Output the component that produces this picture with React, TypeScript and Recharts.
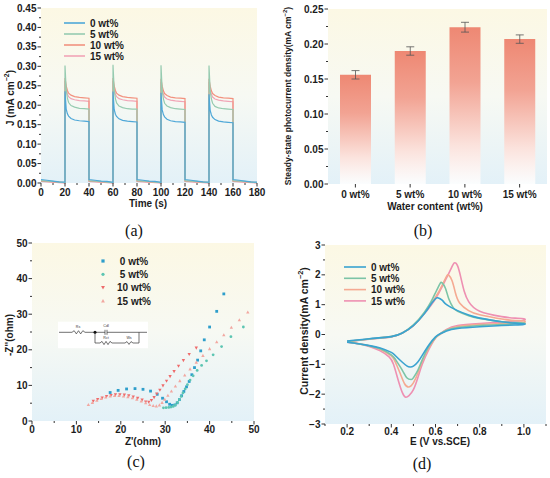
import React from "react";
import {
  LineChart,
  Line,
  BarChart,
  Bar,
  ErrorBar,
  ScatterChart,
  Scatter,
  XAxis,
  YAxis,
  CartesianGrid,
  ReferenceArea,
  Legend,
} from "recharts";

const FONT = 'Arial, "Liberation Sans", Helvetica, sans-serif';
const SERIF = '"Palatino Linotype", "Book Antiqua", "Liberation Serif", "DejaVu Serif", serif';
const INK = "#1c1c1c";

const wtLabels = ["0 wt%", "5 wt%", "10 wt%", "15 wt%"];

// ---- (a) transient photocurrent, light on 20-40, 60-80, 100-120, 140-160 s
const timeS = [
  0, 5, 10, 15, 20,
  20, 21, 22, 23, 25, 28, 32, 36, 40,
  40, 45, 50, 55, 60,
  60, 61, 62, 63, 65, 68, 72, 76, 80,
  80, 85, 90, 95, 100,
  100, 101, 102, 103, 105, 108, 112, 116, 120,
  120, 125, 130, 135, 140,
  140, 141, 142, 143, 145, 148, 152, 156, 160,
  160, 165, 170, 175, 180,
];
const j0wt = [
  0.009, 0.007, 0.005, 0.003, 0.002,
  0.236, 0.19, 0.178, 0.172, 0.166, 0.162, 0.16, 0.159, 0.158,
  0.009, 0.007, 0.005, 0.004, 0.002,
  0.235, 0.189, 0.177, 0.171, 0.165, 0.161, 0.159, 0.158, 0.157,
  0.009, 0.007, 0.005, 0.004, 0.002,
  0.232, 0.188, 0.176, 0.17, 0.164, 0.16, 0.158, 0.157, 0.156,
  0.009, 0.007, 0.005, 0.003, 0.002,
  0.228, 0.187, 0.175, 0.169, 0.163, 0.159, 0.157, 0.156, 0.155,
  0.009, 0.007, 0.005, 0.003, 0.002,
];
const j5wt = [
  0.006, 0.005, 0.004, 0.002, 0.001,
  0.302, 0.24, 0.218, 0.207, 0.199, 0.195, 0.192, 0.191, 0.19,
  0.006, 0.005, 0.004, 0.002, 0.001,
  0.304, 0.239, 0.217, 0.206, 0.198, 0.194, 0.191, 0.19, 0.19,
  0.006, 0.005, 0.004, 0.002, 0.001,
  0.303, 0.238, 0.216, 0.205, 0.198, 0.194, 0.191, 0.19, 0.189,
  0.006, 0.005, 0.004, 0.002, 0.001,
  0.302, 0.237, 0.216, 0.205, 0.197, 0.193, 0.191, 0.19, 0.189,
  0.006, 0.005, 0.004, 0.002, 0.001,
];
const j10wt = [
  0.005, 0.004, 0.003, 0.002, 0.001,
  0.27, 0.25, 0.238, 0.231, 0.226, 0.222, 0.22, 0.219, 0.218,
  0.005, 0.004, 0.003, 0.002, 0.001,
  0.27, 0.25, 0.238, 0.231, 0.226, 0.222, 0.22, 0.219, 0.218,
  0.005, 0.004, 0.003, 0.002, 0.001,
  0.268, 0.249, 0.237, 0.23, 0.225, 0.221, 0.219, 0.218, 0.217,
  0.005, 0.004, 0.003, 0.002, 0.001,
  0.268, 0.249, 0.237, 0.23, 0.225, 0.221, 0.219, 0.218, 0.217,
  0.005, 0.004, 0.003, 0.002, 0.001,
];
const j15wt = [
  0.004, 0.003, 0.002, 0.001, 0.0,
  0.262, 0.24, 0.229, 0.222, 0.217, 0.214, 0.212, 0.211, 0.21,
  0.004, 0.003, 0.002, 0.001, 0.0,
  0.262, 0.24, 0.229, 0.222, 0.217, 0.214, 0.212, 0.211, 0.21,
  0.004, 0.003, 0.002, 0.001, 0.0,
  0.26, 0.239, 0.228, 0.221, 0.216, 0.213, 0.211, 0.21, 0.209,
  0.004, 0.003, 0.002, 0.001, 0.0,
  0.26, 0.239, 0.228, 0.221, 0.216, 0.213, 0.211, 0.21, 0.209,
  0.004, 0.003, 0.002, 0.001, 0.0,
];
const aMajorX = [0, 20, 40, 60, 80, 100, 120, 140, 160, 180];
const aMinorX = [10, 30, 50, 70, 90, 110, 130, 150, 170];
const aMajorY = [0, 0.05, 0.1, 0.15, 0.2, 0.25, 0.3, 0.35, 0.4, 0.45];
const aMinorY = [0.025, 0.075, 0.125, 0.175, 0.225, 0.275, 0.325, 0.375, 0.425];

// ---- (b) steady-state photocurrent
const steadyJ = [0.156, 0.19, 0.224, 0.207];
const steadyErr = [0.006, 0.006, 0.007, 0.006];
const bMajorY = [0, 0.05, 0.1, 0.15, 0.2, 0.25];
const bMinorY = [0.025, 0.075, 0.125, 0.175, 0.225];

// ---- (c) Nyquist plots [Z', -Z'']
const eis0: [number, number][] = [
  [17.6, 8.0], [19.4, 8.6], [21.3, 9.0], [23.2, 9.1], [25.0, 8.9], [26.7, 8.4],
  [28.2, 7.5], [29.4, 6.4], [30.3, 5.4], [31.0, 4.7], [31.6, 4.4], [32.2, 4.5],
  [32.7, 5.1], [33.2, 6.0], [33.7, 7.1], [34.2, 8.3], [34.8, 9.6], [35.4, 11.1],
  [36.0, 13.0], [36.6, 15.0], [37.3, 17.1], [38.0, 19.7], [38.8, 22.8],
  [40.0, 26.4], [41.6, 30.8], [43.2, 35.7],
];
const eis5: [number, number][] = [
  [29.6, 3.7], [30.2, 3.75], [30.8, 3.8], [31.3, 3.9], [31.8, 4.1], [32.3, 4.5],
  [32.8, 5.2], [33.2, 6.0], [33.6, 6.9], [34.0, 7.9], [34.5, 9.0], [35.0, 10.2],
  [35.6, 11.5], [36.3, 12.7], [37.2, 14.2], [38.2, 15.6], [39.3, 16.9],
  [40.8, 18.6], [42.7, 20.9], [44.8, 23.7], [47.6, 26.4],
];
const eis10: [number, number][] = [
  [13.8, 5.6], [14.8, 6.1], [15.8, 6.5], [16.8, 6.9], [17.8, 7.2], [18.8, 7.4],
  [19.8, 7.4], [20.8, 7.3], [21.8, 7.1], [22.8, 6.8], [23.8, 6.4], [24.8, 5.9],
  [25.6, 5.4], [26.3, 5.3], [26.9, 5.8], [27.5, 6.6], [28.1, 7.6], [28.8, 8.7],
  [29.5, 9.9], [30.3, 11.2], [31.1, 12.5], [32.0, 13.9], [33.0, 15.4],
  [34.1, 17.0], [35.4, 18.7], [37.0, 20.5],
];
const eis15: [number, number][] = [
  [12.7, 4.6], [13.6, 5.2], [14.6, 5.8], [15.6, 6.3], [16.6, 6.7], [17.6, 7.0],
  [18.6, 7.1], [19.6, 7.1], [20.6, 7.0], [21.6, 6.8], [22.6, 6.5], [23.6, 6.1],
  [24.6, 5.6], [25.6, 5.1], [26.5, 4.6], [27.3, 4.3], [28.0, 4.2], [28.7, 4.5],
  [29.3, 5.2], [29.9, 6.1], [30.6, 7.2], [31.4, 8.4], [32.3, 9.8], [33.3, 11.3],
  [34.4, 12.9], [35.6, 14.6], [37.0, 16.5], [38.5, 18.4], [40.0, 20.3],
  [41.6, 22.2], [43.2, 24.2], [44.9, 26.3], [46.7, 28.4], [48.6, 30.6],
];
const cMajor = [0, 10, 20, 30, 40, 50];
const cMinor = [5, 15, 25, 35, 45];

// ---- (d) cyclic voltammograms [E, j], forward then reverse sweep
const cv0: [number, number][] = [
  [0.2, -0.22], [0.3, -0.14], [0.4, -0.07], [0.45, 0.05], [0.5, 0.3], [0.55, 0.7],
  [0.58, 1.02], [0.6, 1.2], [0.61, 1.23], [0.63, 1.15], [0.65, 1.0], [0.7, 0.8],
  [0.75, 0.65], [0.8, 0.55], [0.9, 0.43], [0.96, 0.38], [1.0, 0.36],
  [1.0, 0.34], [0.96, 0.32], [0.9, 0.3], [0.8, 0.26], [0.7, 0.2], [0.65, 0.12], [0.62, 0.02],
  [0.6, -0.08], [0.57, -0.35], [0.54, -0.7], [0.52, -0.92], [0.5, -1.06],
  [0.485, -1.09], [0.47, -1.05], [0.45, -0.93], [0.42, -0.72], [0.4, -0.6],
  [0.35, -0.45], [0.3, -0.37], [0.25, -0.31], [0.2, -0.26],
];
const cv5: [number, number][] = [
  [0.2, -0.23], [0.3, -0.15], [0.4, -0.07], [0.45, 0.05], [0.5, 0.32], [0.55, 0.75],
  [0.58, 1.1], [0.6, 1.4], [0.62, 1.7], [0.63, 1.73], [0.645, 1.55], [0.66, 1.2],
  [0.68, 0.9], [0.7, 0.78], [0.75, 0.63], [0.8, 0.54], [0.9, 0.43], [0.96, 0.4], [1.0, 0.38],
  [1.0, 0.36], [0.96, 0.35], [0.9, 0.33], [0.8, 0.3], [0.7, 0.23], [0.65, 0.14], [0.62, 0.02],
  [0.6, -0.1], [0.57, -0.4], [0.54, -0.85], [0.52, -1.2], [0.5, -1.45],
  [0.49, -1.51], [0.47, -1.45], [0.45, -1.2], [0.42, -0.85], [0.4, -0.68],
  [0.35, -0.48], [0.3, -0.38], [0.25, -0.31], [0.2, -0.25],
];
const cv10: [number, number][] = [
  [0.2, -0.23], [0.3, -0.15], [0.4, -0.07], [0.45, 0.05], [0.5, 0.3], [0.55, 0.72],
  [0.6, 1.25], [0.63, 1.65], [0.65, 1.95], [0.66, 1.99], [0.675, 1.8], [0.69, 1.4],
  [0.71, 1.05], [0.75, 0.8], [0.8, 0.66], [0.9, 0.52], [0.96, 0.47], [1.0, 0.45],
  [1.0, 0.4], [0.96, 0.39], [0.9, 0.37], [0.8, 0.34], [0.7, 0.27], [0.65, 0.15], [0.62, 0.0],
  [0.6, -0.12], [0.57, -0.45], [0.54, -0.9], [0.52, -1.3], [0.5, -1.62],
  [0.48, -1.76], [0.46, -1.65], [0.44, -1.3], [0.42, -0.95], [0.4, -0.72],
  [0.35, -0.5], [0.3, -0.38], [0.25, -0.3], [0.2, -0.24],
];
const cv15: [number, number][] = [
  [0.2, -0.24], [0.3, -0.16], [0.4, -0.08], [0.45, 0.05], [0.5, 0.3], [0.55, 0.7],
  [0.6, 1.2], [0.64, 1.75], [0.67, 2.2], [0.685, 2.4], [0.7, 2.3], [0.715, 1.9],
  [0.73, 1.45], [0.75, 1.1], [0.8, 0.78], [0.9, 0.6], [0.96, 0.55], [1.0, 0.53],
  [1.0, 0.48], [0.96, 0.45], [0.9, 0.42], [0.8, 0.37], [0.7, 0.3], [0.65, 0.17], [0.62, 0.02],
  [0.6, -0.12], [0.57, -0.5], [0.54, -1.0], [0.52, -1.45], [0.5, -1.85],
  [0.48, -2.05], [0.465, -2.1], [0.45, -1.95], [0.43, -1.5], [0.41, -1.0],
  [0.39, -0.75], [0.35, -0.55], [0.3, -0.4], [0.25, -0.31], [0.2, -0.26],
];
const dMajorX = [0.2, 0.4, 0.6, 0.8, 1.0];
const dMinorX = [0.1, 0.3, 0.5, 0.7, 0.9, 1.1];
const dMajorY = [-3, -2, -1, 0, 1, 2, 3];
const dMinorY = [-2.5, -1.5, -0.5, 0.5, 1.5, 2.5];

const aColors = ["#4fa8d8", "#96cbb0", "#f2927f", "#f1a4b6"];
const cColors = ["#2e9ecb", "#5cc5b2", "#ee6b6b", "#f2a7a0"];
const dColors = ["#3aa3d0", "#7cc4a6", "#f5aa92", "#ee90b2"];

const aRows = timeS.map((t, i) => ({ t, j0: j0wt[i], j5: j5wt[i], j10: j10wt[i], j15: j15wt[i] }));
const bRows = wtLabels.map((name, i) => ({ name, v: steadyJ[i], e: steadyErr[i] }));
const toXY = (pts: [number, number][]) => pts.map(([x, y]) => ({ x, y }));
const toEJ = (pts: [number, number][]) => pts.map(([E, J]) => ({ E, J }));

const near = (list: number[], v: number) => list.some((m) => Math.abs(m - v) < 1e-9);

function xTick(axisY: number, majors: number[] | null, fmt: (v: any) => string, base: number) {
  return (p: any) => {
    const v = p.payload.value;
    const major = majors === null || near(majors, v);
    return (
      <g>
        <line x1={p.x} x2={p.x} y1={axisY} y2={axisY + (major ? 3.5 : 2)} stroke={INK} strokeWidth={0.9} />
        {major && (
          <text x={p.x} y={axisY + base} textAnchor="middle" fontSize={10} fontWeight={700} fontFamily={FONT} fill={INK}>
            {fmt(v)}
          </text>
        )}
      </g>
    );
  };
}

function yTick(axisX: number, majors: number[], fmt: (v: number) => string) {
  return (p: any) => {
    const v = p.payload.value;
    const major = near(majors, v);
    return (
      <g>
        <line x1={axisX} x2={axisX - (major ? 3.5 : 2)} y1={p.y} y2={p.y} stroke={INK} strokeWidth={0.9} />
        {major && (
          <text x={axisX - 4.5} y={p.y} dy="0.36em" textAnchor="end" fontSize={10} fontWeight={700} fontFamily={FONT} fill={INK}>
            {fmt(v)}
          </text>
        )}
      </g>
    );
  };
}

const title = (x: number, y: number, node: React.ReactNode, size = 10, rotate = false) => ({
  content: () => (
    <text
      transform={`translate(${x},${y})${rotate ? " rotate(-90)" : ""}`}
      textAnchor="middle"
      dominantBaseline="central"
      fontSize={size}
      fontWeight={700}
      fontFamily={FONT}
      fill={INK}
    >
      {node}
    </text>
  ),
});

const unitSup = (before: string, size: number) => [
  <tspan key="a">{before}</tspan>,
  <tspan key="b" dy={-size * 0.4} fontSize={size * 0.7}>−2</tspan>,
  <tspan key="c" dy={size * 0.4}>)</tspan>,
];

function BgGradient({ id }: { id: string }) {
  return (
    <defs>
      <linearGradient id={id} x1="0" y1="0" x2="0" y2="1">
        <stop offset="0" stopColor="#fcf8e4" />
        <stop offset="0.5" stopColor="#f7f9f3" />
        <stop offset="1" stopColor="#e3f1f8" />
      </linearGradient>
    </defs>
  );
}

function LineKey({ colors, rowH, width }: { colors: string[]; rowH: number; width: number }) {
  return (
    <svg width={110} height={rowH * 4 + 4} style={{ display: "block" }}>
      {wtLabels.map((lab, i) => (
        <g key={lab}>
          <line x1={2} x2={2 + width} y1={6 + i * rowH} y2={6 + i * rowH} stroke={colors[i]} strokeWidth={1.6} />
          <text x={width + 7} y={6 + i * rowH} dy="0.36em" fontSize={10} fontWeight={700} fontFamily={FONT} fill={INK}>
            {lab}
          </text>
        </g>
      ))}
    </svg>
  );
}

const marker = (kind: number, color: string, cx: number, cy: number, s = 1.4) => {
  if (kind === 0) return <rect x={cx - s} y={cy - s} width={2 * s} height={2 * s} fill={color} />;
  if (kind === 1) return <circle cx={cx} cy={cy} r={s} fill={color} />;
  if (kind === 2)
    return <polygon points={`${cx - s * 1.2},${cy - s} ${cx + s * 1.2},${cy - s} ${cx},${cy + s * 1.2}`} fill={color} />;
  return <polygon points={`${cx - s * 1.2},${cy + s} ${cx + s * 1.2},${cy + s} ${cx},${cy - s * 1.2}`} fill={color} />;
};

function MarkerKey() {
  return (
    <svg width={80} height={58} style={{ display: "block" }}>
      {wtLabels.map((lab, i) => (
        <g key={lab}>
          {marker(i, cColors[i], 8, 6 + i * 13.3, 1.6)}
          <text x={39} y={6 + i * 13.3} dy="0.36em" textAnchor="middle" fontSize={10} fontWeight={700} fontFamily={FONT} fill={INK}>
            {lab}
          </text>
        </g>
      ))}
    </svg>
  );
}

const zig = (x0: number, x1: number, y: number, a = 1.6, n = 6) => {
  const pts: string[] = [];
  for (let k = 0; k <= n; k++) {
    const yy = k === 0 || k === n ? y : y + (k % 2 ? -a : a);
    pts.push(`${x0 + ((x1 - x0) * k) / n},${yy}`);
  }
  return <polyline points={pts.join(" ")} fill="none" stroke="#333" strokeWidth={0.7} />;
};

function Circuit() {
  const y = 332.3;
  const yl = 343;
  const t = { fontSize: 3.6, fontFamily: FONT, fill: "#333", textAnchor: "middle" as const };
  return (
    <g>
      <rect x={58} y={321.7} width={90} height={26.5} fill="#ffffff" />
      <g stroke="#333" strokeWidth={0.7} fill="none">
        <line x1={59} x2={72} y1={y} y2={y} />
        <line x1={85} x2={105} y1={y} y2={y} />
        <line x1={105} x2={105} y1={y - 2.5} y2={y + 2.5} />
        <line x1={107} x2={107} y1={y - 2.5} y2={y + 2.5} />
        <line x1={107} x2={147} y1={y} y2={y} />
        <line x1={95} x2={95} y1={y} y2={yl} />
        <line x1={95} x2={100} y1={yl} y2={yl} />
        <line x1={112} x2={125} y1={yl} y2={yl} />
        <line x1={133} x2={139} y1={yl} y2={yl} />
        <line x1={139} x2={139} y1={yl} y2={y} />
      </g>
      {zig(72, 85, y)}
      {zig(100, 112, yl)}
      {zig(125, 133, yl, 1.4, 4)}
      <circle cx={95} cy={y} r={1.5} fill="#111" />
      <text x={78} y={327.5} {...t}>Rs</text>
      <text x={106} y={326.5} {...t}>Cdl</text>
      <text x={106} y={339} {...t}>Rct</text>
      <text x={129} y={339} {...t}>Ws</text>
    </g>
  );
}

function PanelA() {
  return (
    <LineChart width={272} height={215} data={aRows} margin={{ top: 8, right: 15, bottom: 0, left: 0 }}>
      <BgGradient id="bgA" />
      <CartesianGrid fill="url(#bgA)" stroke="none" horizontal={false} vertical={false} />
      <XAxis
        type="number"
        dataKey="t"
        domain={[0, 180]}
        ticks={[...aMajorX, ...aMinorX]}
        interval={0}
        height={32}
        axisLine={false}
        tickLine={false}
        tick={xTick(183, aMajorX, (v) => String(v), 12.5)}
        label={title(148, 203, "Time (s)")}
      />
      <YAxis
        type="number"
        domain={[0, 0.45]}
        ticks={[...aMajorY, ...aMinorY]}
        interval={0}
        width={41}
        axisLine={false}
        tickLine={false}
        tick={yTick(41, aMajorY, (v) => v.toFixed(2))}
        label={title(10, 98, unitSup("J (mA cm", 10), 10, true)}
      />
      <ReferenceArea fill="none" stroke={INK} strokeWidth={1} ifOverflow="visible" />
      <Line type="linear" dataKey="j15" stroke={aColors[3]} strokeWidth={1.2} dot={false} isAnimationActive={false} />
      <Line type="linear" dataKey="j10" stroke={aColors[2]} strokeWidth={1.2} dot={false} isAnimationActive={false} />
      <Line type="linear" dataKey="j5" stroke={aColors[1]} strokeWidth={1.2} dot={false} isAnimationActive={false} />
      <Line type="linear" dataKey="j0" stroke={aColors[0]} strokeWidth={1.2} dot={false} isAnimationActive={false} />
      <Legend
        layout="horizontal"
        align="center"
        verticalAlign="middle"
        wrapperStyle={{ position: "absolute", left: 62, top: 17, width: 110 }}
        content={() => <LineKey colors={aColors} rowH={11} width={21} />}
      />
    </LineChart>
  );
}

function PanelB() {
  return (
    <BarChart width={275} height={215} data={bRows} margin={{ top: 9, right: 3, bottom: 0, left: 0 }}>
      <BgGradient id="bgB" />
      <defs>
        <linearGradient id="barB" x1="0" y1="0" x2="0" y2="1">
          <stop offset="0" stopColor="#ee8873" />
          <stop offset="0.35" stopColor="#f2a393" />
          <stop offset="0.75" stopColor="#fbe2dc" />
          <stop offset="1" stopColor="#ffffff" stopOpacity={0.85} />
        </linearGradient>
      </defs>
      <CartesianGrid fill="url(#bgB)" stroke="none" horizontal={false} vertical={false} />
      <XAxis
        dataKey="name"
        height={31}
        axisLine={false}
        tickLine={false}
        interval={0}
        tick={xTick(184, null, (v) => String(v), 13.5)}
        label={title(160, 206, "Water content (wt%)")}
      />
      <YAxis
        type="number"
        domain={[0, 0.25]}
        ticks={[...bMajorY, ...bMinorY]}
        interval={0}
        width={53}
        axisLine={false}
        tickLine={false}
        tick={yTick(53, bMajorY, (v) => v.toFixed(2))}
        label={title(13, 96, unitSup("Steady-state photocurrent density(mA cm", 8.5), 8.5, true)}
      />
      <ReferenceArea fill="none" stroke={INK} strokeWidth={1} ifOverflow="visible" />
      <Bar dataKey="v" fill="url(#barB)" barSize={31} isAnimationActive={false}>
        <ErrorBar dataKey="e" width={4} stroke="#555" strokeWidth={0.8} />
      </Bar>
    </BarChart>
  );
}

function PanelC() {
  const sets = [eis0, eis5, eis10, eis15];
  return (
    <ScatterChart width={268} height={215} margin={{ top: 8, right: 14, bottom: 0, left: 0 }}>
      <BgGradient id="bgC" />
      <CartesianGrid fill="url(#bgC)" stroke="none" horizontal={false} vertical={false} />
      <XAxis
        type="number"
        dataKey="x"
        domain={[0, 50]}
        ticks={[...cMajor, ...cMinor]}
        interval={0}
        height={29}
        axisLine={false}
        tickLine={false}
        tick={xTick(186, cMajor, (v) => String(v), 12)}
        label={title(143, 206, "Z'(ohm)")}
      />
      <YAxis
        type="number"
        dataKey="y"
        domain={[0, 50]}
        ticks={[...cMajor, ...cMinor]}
        interval={0}
        width={32}
        axisLine={false}
        tickLine={false}
        tick={yTick(32, cMajor, (v) => String(v))}
        label={title(9, 100, "-Z''(ohm)", 10, true)}
      />
      <ReferenceArea fill="none" stroke={INK} strokeWidth={1} ifOverflow="visible" />
      {sets.map((pts, k) => (
        <Scatter
          key={wtLabels[k]}
          name={wtLabels[k]}
          data={toXY(pts)}
          fill={cColors[k]}
          isAnimationActive={false}
          shape={(p: any) => marker(k, cColors[k], p.cx, p.cy)}
        />
      ))}
      <Legend
        layout="horizontal"
        align="center"
        verticalAlign="middle"
        wrapperStyle={{ position: "absolute", left: 95, top: 20, width: 80 }}
        content={() => <MarkerKey />}
      />
    </ScatterChart>
  );
}

function PanelD() {
  const sets = [cv15, cv10, cv5, cv0];
  const cols = [dColors[3], dColors[2], dColors[1], dColors[0]];
  return (
    <LineChart width={275} height={215} margin={{ top: 10, right: 4, bottom: 0, left: 0 }}>
      <BgGradient id="bgD" />
      <CartesianGrid fill="url(#bgD)" stroke="none" horizontal={false} vertical={false} />
      <XAxis
        type="number"
        dataKey="E"
        domain={[0.1, 1.1]}
        allowDataOverflow
        ticks={[...dMajorX, ...dMinorX]}
        interval={0}
        height={26}
        axisLine={false}
        tickLine={false}
        tick={xTick(189, dMajorX, (v) => v.toFixed(1), 11)}
        label={title(165, 206, "E (V vs.SCE)")}
      />
      <YAxis
        type="number"
        domain={[-3, 3]}
        ticks={[...dMajorY, ...dMinorY]}
        interval={0}
        width={50}
        axisLine={false}
        tickLine={false}
        tick={yTick(50, dMajorY, (v) => (v < 0 ? "−" + Math.abs(v) : String(v)))}
        label={title(29, 96, unitSup("Current density(mA cm", 10.5), 10.5, true)}
      />
      <ReferenceArea fill="none" stroke={INK} strokeWidth={1} ifOverflow="visible" />
      {sets.map((pts, k) => (
        <Line
          key={k}
          type="natural"
          data={toEJ(pts)}
          dataKey="J"
          stroke={cols[k]}
          strokeWidth={1.6}
          dot={false}
          isAnimationActive={false}
        />
      ))}
      <Legend
        layout="horizontal"
        align="center"
        verticalAlign="middle"
        wrapperStyle={{ position: "absolute", left: 67, top: 26, width: 110 }}
        content={() => <LineKey colors={dColors} rowH={11.3} width={22} />}
      />
    </LineChart>
  );
}

export default function App() {
  const box = (left: number, top: number): React.CSSProperties => ({ position: "absolute", left, top });
  const letter = { fontFamily: SERIF, fontSize: 16, fill: "#111", textAnchor: "middle" as const };
  return (
    <div style={{ position: "absolute", left: 0, top: 0, width: 550, height: 478, background: "#ffffff", overflow: "hidden" }}>
      <div style={box(0, 0)}>
        <PanelA />
      </div>
      <div style={box(275, 0)}>
        <PanelB />
      </div>
      <div style={box(0, 235)}>
        <PanelC />
      </div>
      <div style={box(275, 235)}>
        <PanelD />
      </div>
      <svg width={550} height={478} style={{ position: "absolute", left: 0, top: 0, pointerEvents: "none" }}>
        <Circuit />
        <text x={134} y={236} {...letter}>(a)</text>
        <text x={423} y={236} {...letter}>(b)</text>
        <text x={136} y={467} {...letter}>(c)</text>
        <text x={422} y={469} {...letter}>(d)</text>
      </svg>
    </div>
  );
}
